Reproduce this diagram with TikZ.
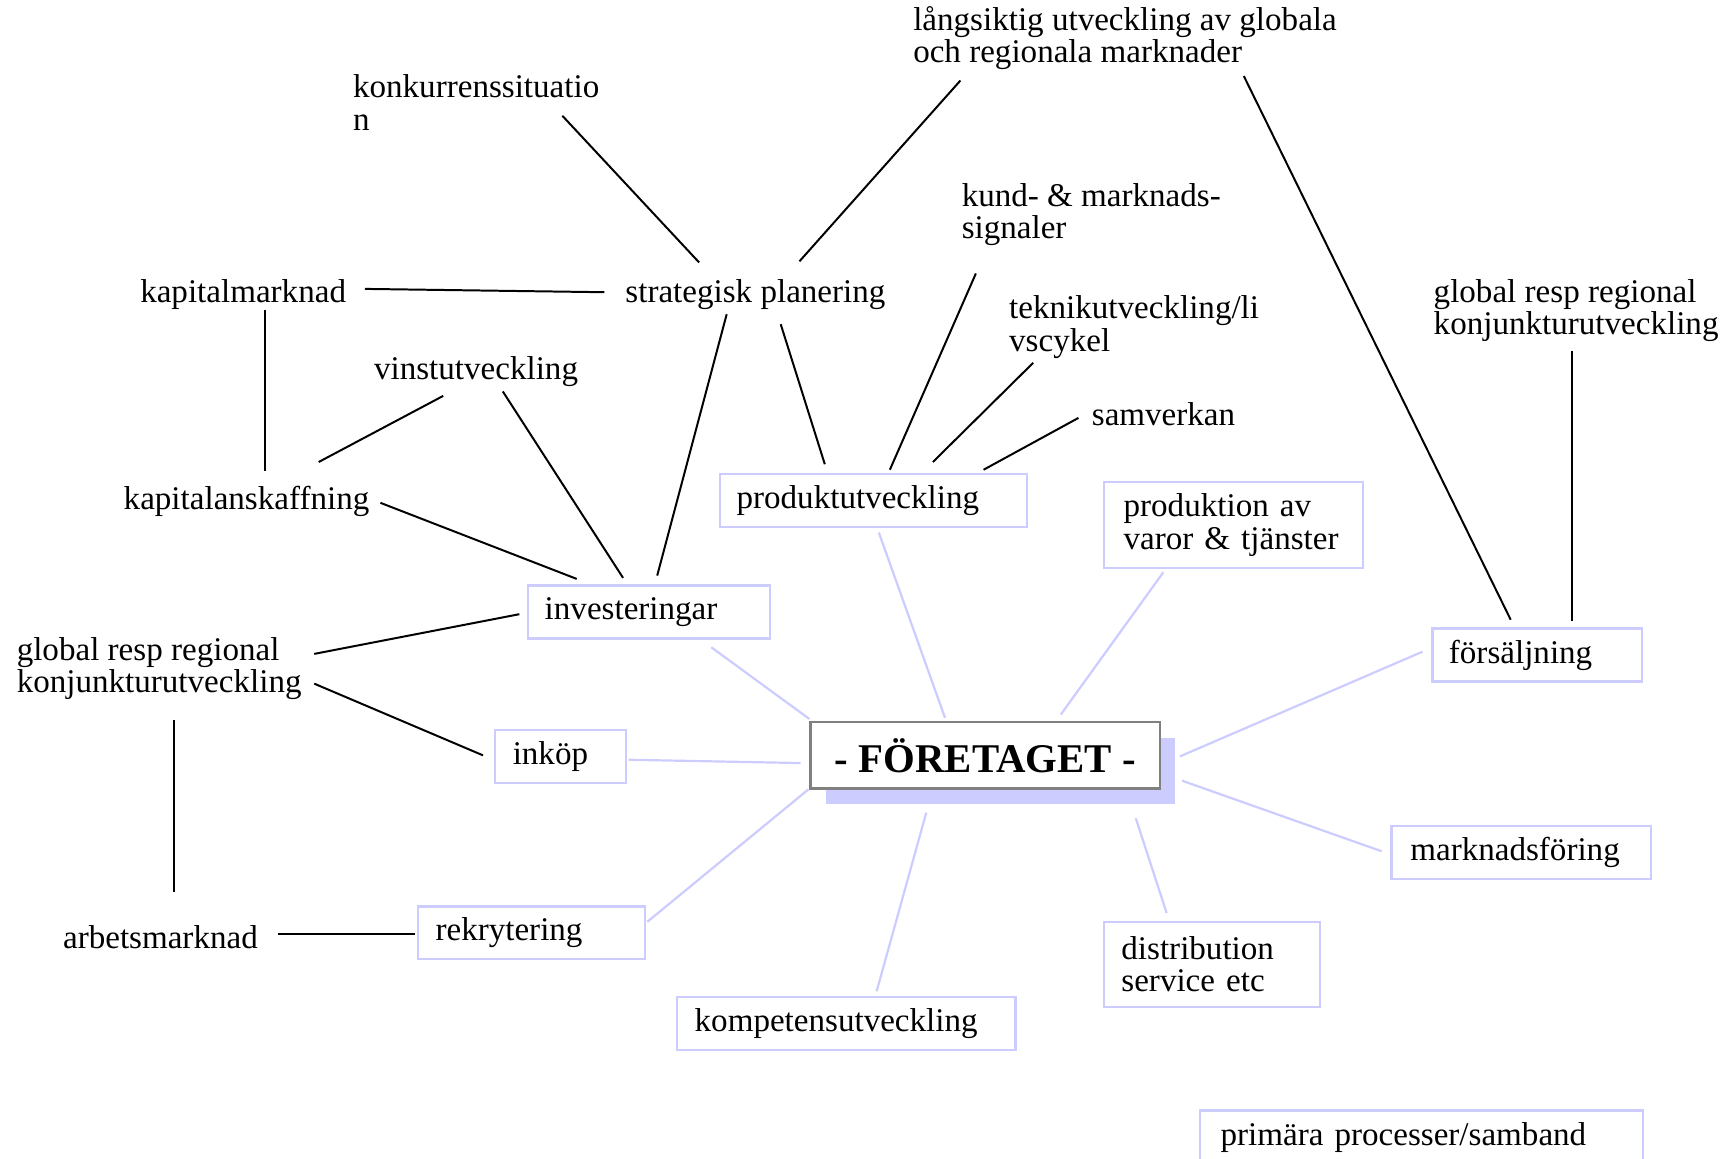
\documentclass[tikz,border=0pt]{standalone}
\usepackage{fontspec}
\setmainfont{Liberation Serif}
\usetikzlibrary{calc,shadows}
\definecolor{procblue}{RGB}{204,204,255}
\def\txt{\fontsize{30}{29.5}\selectfont}

\begin{document}
\begin{tikzpicture}[x=1pt,y=-1pt,
	lbl/.style={anchor=west,inner sep=0pt,align=left,font=\txt,yshift=-2pt},
	proc/.style={draw=procblue,line width=2pt,anchor=north west,align=left,inner ysep=0pt,font=\txt},
	link/.style={line width=1.8pt},
	flow/.style={draw=procblue,line width=2pt}]
	\useasboundingbox (0,0) rectangle (1568,1051);
	% omvaerld
	\node[lbl] (longterm) at (828,32.5) {långsiktig utveckling av globala\\och regionala marknader};
	\node[lbl] (konk) at (320,91) {konkurrenssituatio\\n};
	\node[lbl] (kund) at (872,192.5) {kund- \& marknads-\\signaler};
	\node[lbl] (strat) at (567,265) {strategisk planering};
	\node[lbl] (kapmark) at (127,265) {kapitalmarknad};
	\node[lbl] (teknik) at (915,294.5) {teknikutveckling/li\\vscykel};
	\node[lbl] (globR) at (1300,279.5) {global resp regional\\konjunkturutveckling};
	\node[lbl] (vinst) at (339,335) {vinstutveckling};
	\node[lbl] (samv) at (990,374) {samverkan};
	\node[lbl] (kapansk) at (112,453) {kapitalanskaffning};
	\node[lbl] (globL) at (15,604.5) {global resp regional\\konjunkturutveckling};
	\node[lbl] (arbmark) at (57,848) {arbetsmarknad};
	% processer
	\node[proc,inner xsep=15pt,text width=189pt,minimum height=48pt] (invest) at (478,530) {investeringar};
	\node[proc,inner xsep=15pt,text width=248pt,minimum height=48pt] (produt) at (652,429) {produktutveckling};
	\node[proc,inner xsep=18pt,text width=199pt,minimum height=78pt] (produk) at (1000,436) {produktion av\\varor \& tjänster};
	\node[proc,inner xsep=15pt,text width=160pt,minimum height=48pt] (fors) at (1298,569) {försäljning};
	\node[proc,inner xsep=16pt,text width=87pt,minimum height=48pt] (inkop) at (448,661) {inköp};
	\node[proc,inner xsep=16pt,text width=174pt,minimum height=48pt] (rekr) at (378,821) {rekrytering};
	\node[proc,inner xsep=16pt,text width=275pt,minimum height=48pt] (komp) at (613,903) {kompetensutveckling};
	\node[proc,inner xsep=16pt,text width=164pt,minimum height=77pt] (distr) at (1000,835) {distribution\\service etc};
	\node[proc,inner xsep=17pt,text width=201pt,minimum height=48pt] (mark) at (1261,748) {marknadsföring};
	\node[proc,inner xsep=19pt,text width=364pt,minimum height=50pt] (prim) at (1087,1006) {primära processer/samband};
	\node[draw=black!50,line width=2pt,fill=white,anchor=north west,inner sep=0pt,
	minimum width=317pt,minimum height=60pt,font=\fontsize{37}{40}\bfseries\selectfont,
	drop shadow={shadow xshift=14pt,shadow yshift=-14pt,fill=procblue,draw=none,opacity=1}]
	(firm) at (734,654) {- FÖRETAGET -};
	% svarta samband
	\draw[link] ($(konk.west)+(190,12)$) -- ($(strat.west)+(67,-29)$);
	\draw[link] ($(longterm.west)+(43,38.5)$) -- ($(strat.west)+(158,-30)$);
	\draw[link] ($(longterm.west)+(300,34.5)$) -- ($(fors.north west)+(72,-7)$);
	\draw[link] ($(kapmark.west)+(204,-5)$) -- ($(strat.west)+(-19,-2)$);
	\draw[link] ($(kapmark.west)+(113,14)$) -- ($(kapansk.west)+(128,-28)$);
	\draw[link] ($(vinst.west)+(63,22)$) -- ($(kapansk.west)+(177,-36)$);
	\draw[link] ($(vinst.west)+(117,18)$) -- ($(invest.north west)+(87,-6)$);
	\draw[link] ($(strat.west)+(92,18)$) -- ($(invest.north west)+(118,-8)$);
	\draw[link] ($(strat.west)+(141,27)$) -- ($(produt.north west)+(96,-8)$);
	\draw[link] ($(kund.west)+(13,53.5)$) -- ($(produt.north west)+(155,-3)$);
	\draw[link] ($(teknik.west)+(22,32.5)$) -- ($(produt.north west)+(194,-10)$);
	\draw[link] ($(samv.west)+(-12,3)$) -- ($(produt.north west)+(240,-3)$);
	\draw[link] ($(kapansk.west)+(233,1)$) -- ($(invest.north west)+(45,-5)$);
	\draw[link] ($(globL.west)+(270,-13.5)$) -- ($(invest.north west)+(-7,27)$);
	\draw[link] ($(globL.west)+(270,13.5)$) -- ($(inkop.north west)+(-10,24)$);
	\draw[link] ($(globL.west)+(143,46.5)$) -- ($(arbmark.west)+(101,-41)$);
	\draw[link] ($(arbmark.west)+(195,-3)$) -- ($(rekr.north west)+(-2,26)$);
	\draw[link] ($(globR.west)+(126,36.5)$) -- ($(fors.north west)+(128,-6)$);
	% primaera samband
	\draw[flow] ($(invest.north west)+(167,57)$) -- ($(firm.north west)+(0,-2)$);
	\draw[flow] ($(produt.north west)+(145,54)$) -- ($(firm.north west)+(123,-3)$);
	\draw[flow] ($(produk.north west)+(55,83)$) -- ($(firm.north west)+(228,-6)$);
	\draw[flow] ($(fors.north west)+(-8,22)$) -- ($(firm.north west)+(336,32)$);
	\draw[flow] ($(inkop.north west)+(122,28)$) -- ($(firm.north west)+(-8,38)$);
	\draw[flow] ($(rekr.north west)+(209,15)$) -- ($(firm.north west)+(-1,62)$);
	\draw[flow] ($(komp.north west)+(182,-4)$) -- ($(firm.north west)+(106,83)$);
	\draw[flow] ($(distr.north west)+(58,-7)$) -- ($(firm.north west)+(296,88)$);
	\draw[flow] ($(mark.north west)+(-8,24)$) -- ($(firm.north west)+(338,54)$);
\end{tikzpicture}
\end{document}
